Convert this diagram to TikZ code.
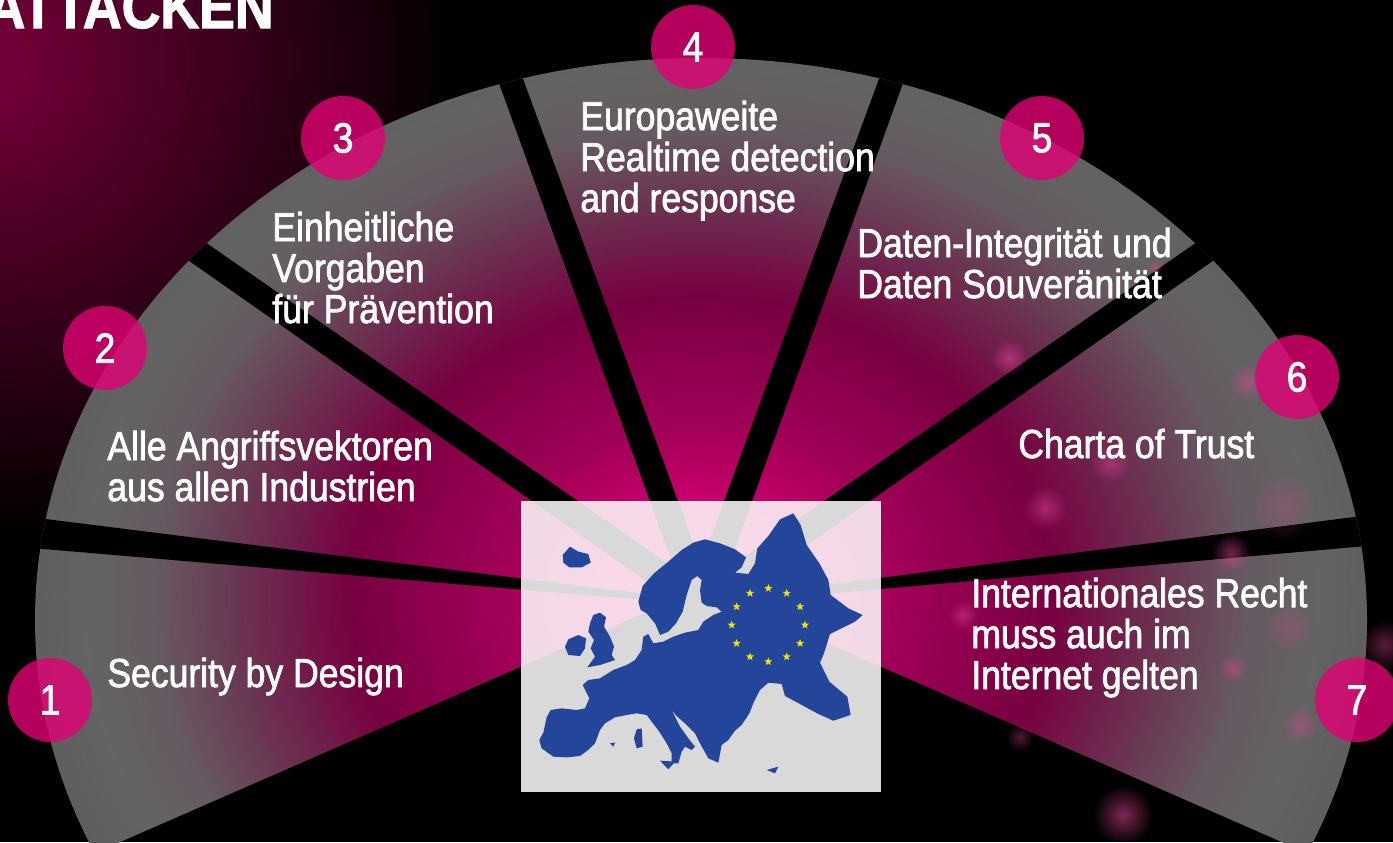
\documentclass[tikz,border=0pt]{standalone}
\usepackage{fontspec}
\setmainfont{Liberation Sans}[FakeStretch=0.88, FakeBold=1.8]
\usetikzlibrary{shapes.geometric,fadings,calc}

% Farben
\definecolor{tmagenta}{HTML}{E20074}
\definecolor{glowmag}{HTML}{7A003C}
\definecolor{spotpink}{HTML}{E0489A}
\definecolor{eublue}{HTML}{23459A}
\definecolor{euyellow}{HTML}{F2E600}
\definecolor{fanhot}{HTML}{D0006E}
\definecolor{fanpink}{HTML}{A30059}
\definecolor{fandeep}{HTML}{780040}
\definecolor{fanmauve}{HTML}{6A3452}
\definecolor{fanash}{HTML}{665A62}
\definecolor{fangrey}{HTML}{636363}
\definecolor{fanrim}{HTML}{5C5C5C}

% Verlauf der Segmente: Magenta in der Mitte, grau am Rand (25bp = Rand)
\pgfdeclareradialshading{fanglow}{\pgfpoint{0bp}{0bp}}{%
  color(0bp)=(fanhot); color(3.5bp)=(fanhot); color(7bp)=(fanpink);
  color(12.5bp)=(fandeep); color(16.5bp)=(fanmauve); color(19.5bp)=(fanash);
  color(22bp)=(fangrey); color(25bp)=(fanrim); color(50bp)=(fanrim)}

% weicher Lichtpunkt
\tikzfading[name=softspot, inner color=transparent!0, outer color=transparent!100]

\begin{document}
\begin{tikzpicture}[x=0.02cm, y=-0.02cm,
    % Beschriftung der Segmente (Punkt = Grundlinie der letzten Zeile)
    fanlabel/.style={anchor=base west, align=left, inner sep=0pt, text=white,
        font=\fontsize{23}{23.3}\selectfont},
    % nummerierte Punkte am Rand
    numdot/.style={circle, fill=tmagenta, fill opacity=0.8, text opacity=1,
        text=white, minimum size=1.68cm, inner sep=0pt,
        font=\fontsize{24}{24}\selectfont},
    eustar/.style={shape=star, star points=5, star point ratio=2.4,
        fill=euyellow, inner sep=0pt, minimum size=0.17cm},
    gapband/.style={fill=black},
    spot/.style={fill=spotpink, path fading=softspot}
]
    \useasboundingbox (0,0) rectangle (1393,842);
    \clip (0,0) rectangle (1393,842);
    \fill[black] (0,0) rectangle (1393,842);

    % Schein oben links
    \fill[glowmag, path fading=softspot] (-20,60) circle (480);

    \coordinate (fanapex) at (701,588);
    \coordinate (gapapex) at (701,603);

    % Facher aus sieben Segmenten
    \begin{scope}
        \clip (701,620) ellipse (666 and 562);
        \clip (fanapex) -- (1801,1069) -- (1801,-300) -- (-399,-300) -- (-399,1069) -- cycle;
        \shade[shading=fanglow] (701,596) ellipse (700 and 600);
        % schwarze Trennfugen: Winkel / Breite innen / Breite aussen
        \foreach \ang/\win/\wout in {174/4/34, 145.1/27/24, 110/27/23,
                                     70/27/23, 34.9/27/24, 6.2/4/34}{
            \fill[gapband, shift={(gapapex)}, rotate=\ang]
                (0,-\win/2) -- (760,-\wout/2) -- (760,\wout/2) -- (0,\win/2) -- cycle;
        }
    \end{scope}

    % Lichtpunkte rechts
    \foreach \sx/\sy/\sr/\so in {1009/358/18/0.55, 1155/267/8/0.5, 1247/382/18/0.5,
        1110/463/20/0.45, 1045/508/22/0.5, 1283/507/35/0.25, 1231/553/20/0.5,
        963/615/15/0.45, 1233/668/15/0.45, 1300/725/18/0.45, 1020/737/14/0.35,
        1123/815/30/0.55, 1385/645/25/0.4, 1290/627/25/0.25}{
        \fill[spot, opacity=\so] (\sx,\sy) circle (\sr);
    }

    % Europakarte
    \fill[white, opacity=0.85] (521,501) rectangle (881,792);
    \begin{scope}[shift={(500,480)}, scale=1/3]
        % Festland
        \fill[eublue] (415,365) -- (428,318) -- (462,280) -- (505,245) -- (545,210)
            -- (580,188) -- (615,178) -- (660,190) -- (705,208) -- (738,232)
            -- (725,262) -- (705,278) -- (745,282) -- (765,250) -- (772,205)
            -- (805,168) -- (840,118) -- (880,100) -- (902,135) -- (920,195)
            -- (958,250) -- (985,300) -- (992,345) -- (1045,385) -- (1088,405)
            -- (1065,425) -- (990,462) -- (972,520) -- (960,548) -- (988,605)
            -- (1042,650) -- (1052,705) -- (1000,722) -- (955,702) -- (900,672)
            -- (855,648) -- (845,612) -- (805,608) -- (780,630) -- (762,665)
            -- (748,700) -- (725,735) -- (705,752) -- (685,780) -- (665,795)
            -- (655,848) -- (625,835) -- (600,790) -- (585,760) -- (560,735)
            -- (530,708) -- (515,690) -- (540,740) -- (565,775) -- (585,800)
            -- (575,810) -- (555,800) -- (545,815) -- (535,850) -- (515,850)
            -- (515,820) -- (500,790) -- (478,755) -- (455,725) -- (440,705)
            -- (410,700) -- (380,705) -- (345,712) -- (315,730) -- (300,750)
            -- (285,790) -- (262,812) -- (240,828) -- (200,832) -- (160,830)
            -- (125,805) -- (118,780) -- (130,758) -- (140,712) -- (152,690)
            -- (185,685) -- (230,690) -- (255,685) -- (268,655) -- (248,615)
            -- (265,600) -- (300,595) -- (340,570) -- (380,555) -- (405,540)
            -- (425,510) -- (430,470) -- (445,462) -- (460,490) -- (490,485)
            -- (520,470) -- (555,458) -- (595,450) -- (610,425) -- (640,405)
            -- (665,395) -- (650,382) -- (620,378) -- (605,368) -- (600,330)
            -- (605,300) -- (592,288) -- (575,300) -- (560,345) -- (548,395)
            -- (528,430) -- (505,455) -- (480,465) -- (465,430) -- (440,400)
            -- (422,390) -- cycle;
        % Inseln
        \fill[eublue] (280,405) -- (300,398) -- (318,412) -- (312,440) -- (330,470)
            -- (342,500) -- (335,525) -- (345,540) -- (300,555) -- (262,562)
            -- (285,530) -- (272,505) -- (282,480) -- (265,455) -- (270,430) -- cycle;
        \fill[eublue] (205,478) -- (235,465) -- (258,475) -- (255,505) -- (240,528)
            -- (205,525) -- (195,500) -- cycle;
        \fill[eublue] (188,225) -- (210,200) -- (235,215) -- (265,222) -- (272,248)
            -- (245,262) -- (208,262) -- (190,248) -- cycle;
        \fill[eublue] (410,748) -- (425,745) -- (428,800) -- (410,805) -- (402,775) -- cycle;
        \fill[eublue] (480,842) -- (525,845) -- (505,868) -- cycle;
        \fill[eublue] (800,870) -- (835,860) -- (825,880) -- cycle;
        \fill[eublue] (330,790) -- (345,788) -- (340,800) -- cycle;
        % Sternenkranz
        \foreach \k in {0,...,11}{
            \node[eustar] (star\k) at ($(805,435)+(\k*30:110)$) {};
        }
    \end{scope}

    % Titel
    \node[anchor=base east, inner sep=0pt, text=white,
          font=\bfseries\fontsize{34.7}{35}\selectfont] (title) at (274,28) {ATTACKEN};

    % Texte der Segmente
    \node[fanlabel] (lbl1) at (107,687) {Security by Design};
    \node[fanlabel] (lbl2) at (107,501) {Alle Angriffsvektoren\\aus allen Industrien};
    \node[fanlabel] (lbl3) at (272,323) {Einheitliche\\Vorgaben\\für Prävention};
    \node[fanlabel] (lbl4) at (580,212) {Europaweite\\Realtime detection\\and response};
    \node[fanlabel] (lbl5) at (857,298) {Daten-Integrität und\\Daten Souveränität};
    \node[fanlabel] (lbl6) at (1018,458) {Charta of Trust};
    \node[fanlabel] (lbl7) at (971,689) {Internationales Recht\\muss auch im\\Internet gelten};

    % Nummern
    \foreach \n/\px/\py in {1/50/700, 2/105/348, 3/343/138, 4/693/47,
                            5/1042/138, 6/1297/377, 7/1357/700}{
        \node[numdot] (num\n) at (\px,\py) {\n};
    }
\end{tikzpicture}
\end{document}
